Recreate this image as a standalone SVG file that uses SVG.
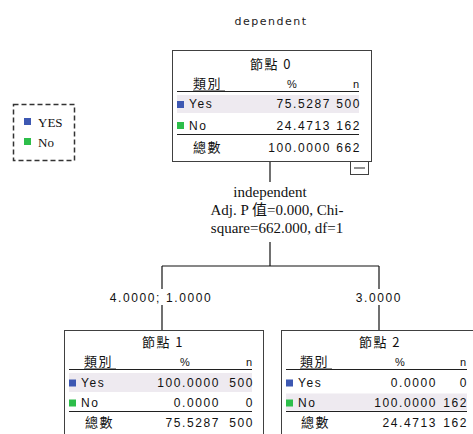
<svg xmlns="http://www.w3.org/2000/svg" width="473" height="434" viewBox="0 0 473 434">
<style>
.box{fill:#fff;stroke:#404040;stroke-width:1}
.rule{stroke:#202020;stroke-width:1}
.shade{fill:#EEEAF0}
.blue{fill:#3D58B2}
.green{fill:#2DBE4A}
.cjk{font-family:"Noto Sans CJK TC","Noto Sans CJK SC",sans-serif;font-size:13px;letter-spacing:1.5px;fill:#111}
.lat{font-family:"Liberation Sans",Arial,sans-serif;font-size:12px;letter-spacing:1.6px;fill:#111}
.hd{font-family:"Liberation Sans",Arial,sans-serif;font-size:11px;fill:#111}
.end{text-anchor:end}
.mid{text-anchor:middle}
.ser{font-family:"Liberation Serif","Times New Roman","Noto Sans CJK TC",serif;font-size:15px;fill:#111}
.conn{stroke:#111;stroke-width:1.2;fill:none}
</style>
<rect width="473" height="434" fill="#fff"/>
<text x="271" y="25" class="mid" style="font-family:'DejaVu Sans',sans-serif;font-size:11px;letter-spacing:1.5px;fill:#222">dependent</text>

<g id="legend">
<rect x="13.5" y="104.5" width="61" height="56" fill="none" stroke="#333" stroke-width="1.5" stroke-dasharray="5,3"/>
<rect x="24" y="118" width="7" height="7" class="blue"/>
<text x="38" y="127" style="font-family:'Liberation Serif',serif;font-size:13px;fill:#111">YES</text>
<rect x="24" y="138" width="7" height="7" class="green"/>
<text x="38" y="147" style="font-family:'Liberation Serif',serif;font-size:13px;fill:#111">No</text>
</g>

<g id="connectors">
<line x1="270" y1="161" x2="270" y2="182" class="conn"/>
<line x1="270" y1="242" x2="270" y2="266" class="conn"/>
<line x1="162" y1="266" x2="379" y2="266" class="conn"/>
<line x1="162" y1="266" x2="162" y2="289" class="conn"/>
<line x1="379" y1="266" x2="379" y2="289" class="conn"/>
<line x1="162" y1="305" x2="162" y2="330" class="conn"/>
<line x1="379" y1="305" x2="379" y2="330" class="conn"/>
<text x="270" y="197" class="ser mid">independent</text>
<text x="277" y="215" class="ser mid">Adj. P 值=0.000, Chi-</text>
<text x="277" y="233" class="ser mid">square=662.000, df=1</text>
<text x="161" y="302" class="lat mid">4.0000; 1.0000</text>
<text x="379" y="302" class="lat mid">3.0000</text>
</g>

<g id="node0">
<rect x="172.5" y="50.5" width="199" height="111" class="box"/>
<text x="271" y="69" class="cjk mid">節點 0</text>
<text x="193" y="88" class="cjk">類別</text>
<text x="292" y="88" class="hd mid">%</text>
<text x="359" y="88" class="hd end">n</text>
<line x1="177" y1="91.5" x2="359" y2="91.5" class="rule"/>
<line x1="193" y1="91" x2="225" y2="91" class="rule" stroke-width="2"/>
<rect x="177" y="95" width="182" height="18" class="shade"/>
<rect x="177" y="101" width="7" height="7" class="blue"/>
<text x="189" y="108" class="lat">Yes</text>
<text x="331" y="108" class="lat end">75.5287</text>
<text x="361" y="108" class="lat end">500</text>
<rect x="177" y="122" width="7" height="7" class="green"/>
<text x="189" y="130" class="lat">No</text>
<text x="331" y="130" class="lat end">24.4713</text>
<text x="361" y="130" class="lat end">162</text>
<line x1="177" y1="134.5" x2="359" y2="134.5" class="rule"/>
<text x="193" y="152" class="cjk">總數</text>
<text x="331" y="152" class="lat end">100.0000</text>
<text x="361" y="152" class="lat end">662</text>
<rect x="350.5" y="161.5" width="18" height="13" class="box"/>
<line x1="354" y1="168" x2="365" y2="168" class="rule"/>
</g>

<g id="node1">
<rect x="64.5" y="330.5" width="199" height="111" class="box"/>
<text x="163" y="347" class="cjk mid">節點 1</text>
<text x="84" y="366" class="cjk">類別</text>
<text x="185" y="366" class="hd mid">%</text>
<text x="252" y="366" class="hd end">n</text>
<line x1="69" y1="369.5" x2="252" y2="369.5" class="rule"/>
<line x1="84" y1="369" x2="116" y2="369" class="rule" stroke-width="2"/>
<rect x="69" y="373" width="183" height="19" class="shade"/>
<rect x="69" y="379.5" width="7" height="7" class="blue"/>
<text x="81" y="387" class="lat">Yes</text>
<text x="220" y="387" class="lat end">100.0000</text>
<text x="254" y="387" class="lat end">500</text>
<rect x="69" y="399.5" width="7" height="7" class="green"/>
<text x="81" y="407" class="lat">No</text>
<text x="220" y="407" class="lat end">0.0000</text>
<text x="254" y="407" class="lat end">0</text>
<line x1="69" y1="411.5" x2="252" y2="411.5" class="rule"/>
<text x="85" y="427" class="cjk">總數</text>
<text x="220" y="427" class="lat end">75.5287</text>
<text x="254" y="427" class="lat end">500</text>
</g>

<g id="node2">
<rect x="281.5" y="330.5" width="199" height="111" class="box"/>
<text x="380" y="347" class="cjk mid">節點 2</text>
<text x="300" y="366" class="cjk">類別</text>
<text x="400" y="366" class="hd mid">%</text>
<text x="466" y="366" class="hd end">n</text>
<line x1="286" y1="369.5" x2="467" y2="369.5" class="rule"/>
<line x1="300" y1="369" x2="332" y2="369" class="rule" stroke-width="2"/>
<rect x="286" y="379.5" width="7" height="7" class="blue"/>
<text x="298" y="387" class="lat">Yes</text>
<text x="437" y="387" class="lat end">0.0000</text>
<text x="468" y="387" class="lat end">0</text>
<rect x="286" y="393.5" width="181" height="17" class="shade"/>
<rect x="286" y="399.5" width="7" height="7" class="green"/>
<text x="298" y="407" class="lat">No</text>
<text x="437" y="407" class="lat end">100.0000</text>
<text x="468" y="407" class="lat end">162</text>
<line x1="286" y1="411.5" x2="467" y2="411.5" class="rule"/>
<text x="301" y="427" class="cjk">總數</text>
<text x="437" y="427" class="lat end">24.4713</text>
<text x="468" y="427" class="lat end">162</text>
</g>
</svg>
